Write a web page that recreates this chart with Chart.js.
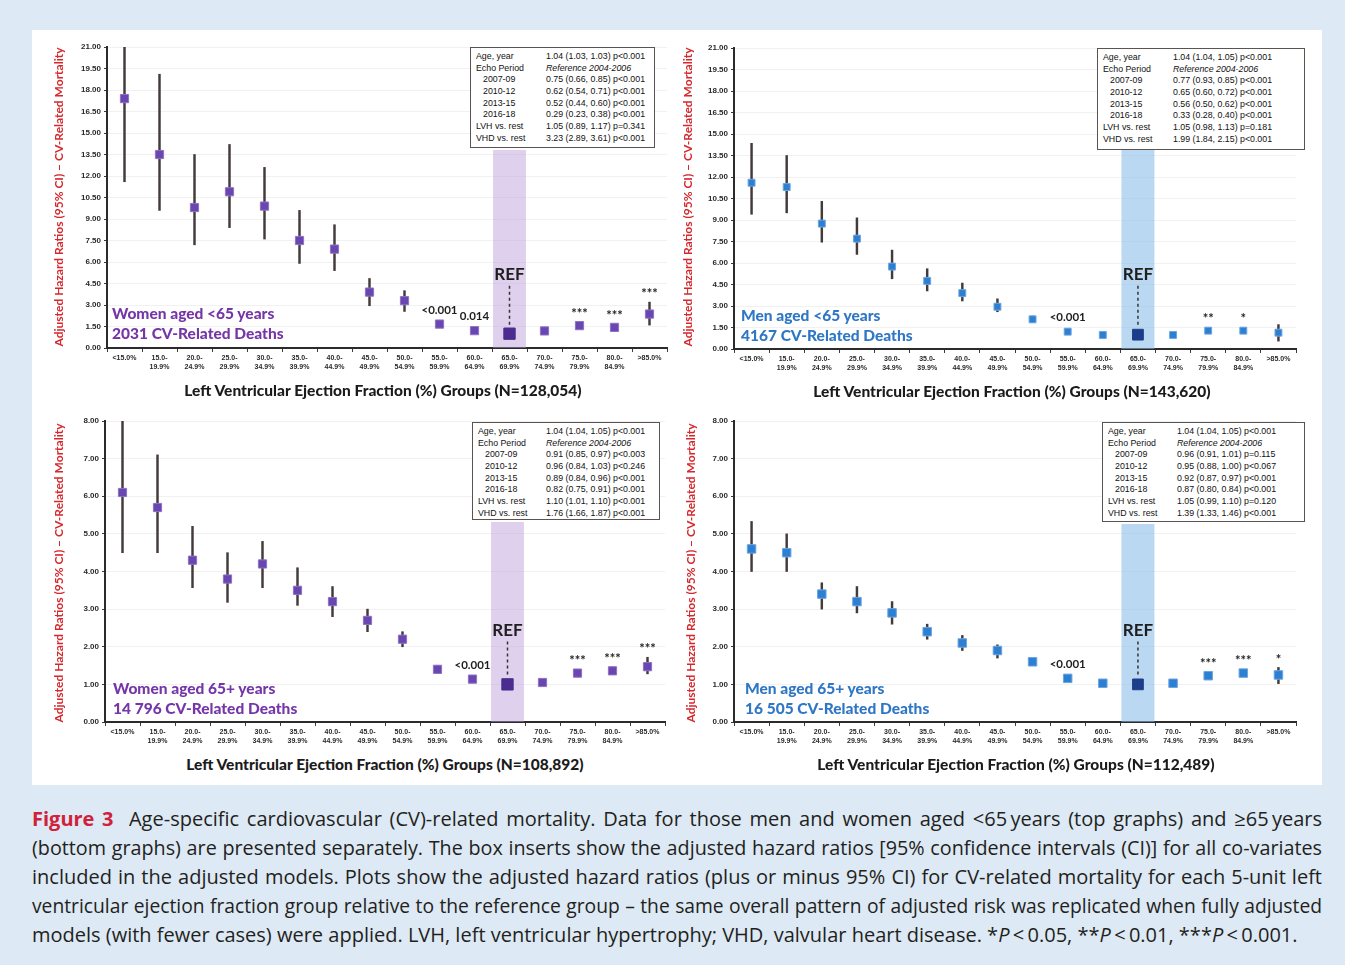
<!DOCTYPE html>
<html>
<head>
<meta charset="utf-8">
<script src="https://cdn.jsdelivr.net/npm/chart.js@4.4.1/dist/chart.umd.min.js"></script>
<style>
  html, body { margin: 0; padding: 0; }
  body { width: 1345px; height: 965px; background: #dde9f4; position: relative; overflow: hidden; font-family: Lato, "Liberation Sans", sans-serif; }
  #panel { position: absolute; left: 32px; top: 30px; width: 1290px; height: 755px; background: #fff; }
  canvas { position: absolute; }
  .ytitle { position: absolute; width: 320px; height: 14px; line-height: 14px; text-align: center; color: #d6282c; font: bold 12px Lato, sans-serif; white-space: nowrap; transform: rotate(-90deg); }
  .xtitle { position: absolute; width: 600px; text-align: center; color: #1b1b1b; font: 900 15.5px Lato, sans-serif; white-space: nowrap; }
  .plabel { position: absolute; font: 900 15.5px Lato, sans-serif; line-height: 20px; white-space: nowrap; }
  .inset { position: absolute; background: #fff; border: 1.5px solid #5a5350; box-sizing: border-box; padding-top: 3px; font: 8.8px "Liberation Sans", sans-serif; color: #111; }
  .inset .row { height: 11.7px; line-height: 11.7px; position: relative; white-space: nowrap; }
  .inset .lab { position: absolute; left: 5px; }
  .inset .lab.ind { left: 12px; }
  .inset .val { position: absolute; }
  .inset .val.it { font-style: italic; }
  #caption { position: absolute; left: 32px; top: 804px; width: 1290px; color: #231f20; font: 20px "Open Sans", sans-serif; }
  #caption .ln { height: 29px; line-height: 29px; white-space: normal; overflow: hidden; }
  #caption .j { text-align: justify; text-align-last: justify; }
  #caption .fig { color: #d0203a; font-weight: bold; font-size: 20px; }
</style>
</head>
<body>
<div id="panel"></div>

<canvas id="cTL" width="640" height="340" style="left:36px;top:36px"></canvas>
<canvas id="cTR" width="640" height="340" style="left:664px;top:36px"></canvas>
<canvas id="cBL" width="640" height="340" style="left:36px;top:410px"></canvas>
<canvas id="cBR" width="640" height="340" style="left:664px;top:410px"></canvas>

<div class="ytitle" style="left:-102px;top:190px">Adjusted Hazard Ratios (95% CI) – CV-Related Mortality</div>
<div class="ytitle" style="left:527px;top:190px">Adjusted Hazard Ratios (95% CI) – CV-Related Mortality</div>
<div class="ytitle" style="left:-102px;top:566px">Adjusted Hazard Ratios (95% CI) – CV-Related Mortality</div>
<div class="ytitle" style="left:530px;top:566px">Adjusted Hazard Ratios (95% CI) – CV-Related Mortality</div>

<div class="xtitle" style="left:83px;top:381px">Left Ventricular Ejection Fraction (%) Groups (N=128,054)</div>
<div class="xtitle" style="left:712px;top:382px">Left Ventricular Ejection Fraction (%) Groups (N=143,620)</div>
<div class="xtitle" style="left:85px;top:755px">Left Ventricular Ejection Fraction (%) Groups (N=108,892)</div>
<div class="xtitle" style="left:716px;top:755px">Left Ventricular Ejection Fraction (%) Groups (N=112,489)</div>

<div class="plabel" style="left:112px;top:303px;color:#7536a8">Women aged &lt;65 years<br>2031 CV-Related Deaths</div>
<div class="plabel" style="left:741px;top:305px;color:#2f77c4">Men aged &lt;65 years<br>4167 CV-Related Deaths</div>
<div class="plabel" style="left:113px;top:678px;color:#7536a8">Women aged 65+ years<br>14 796 CV-Related Deaths</div>
<div class="plabel" style="left:745px;top:678px;color:#2f77c4">Men aged 65+ years<br>16 505 CV-Related Deaths</div>

<div id="insTL" class="inset" style="left:470px;top:47px;width:185px;height:101px"></div>
<div id="insTR" class="inset" style="left:1097px;top:48px;width:208px;height:102px"></div>
<div id="insBL" class="inset" style="left:472px;top:422px;width:188px;height:98px"></div>
<div id="insBR" class="inset" style="left:1102px;top:422px;width:203px;height:100px"></div>

<div id="caption">
  <div class="ln j"><span class="fig">Figure&nbsp;3</span>&nbsp; Age-specific cardiovascular (CV)-related mortality. Data for those men and women aged &lt;65&#8201;years (top graphs) and &ge;65&#8201;years</div>
  <div class="ln j">(bottom graphs) are presented separately. The box inserts show the adjusted hazard ratios [95% confidence intervals (CI)] for all co-variates</div>
  <div class="ln j">included in the adjusted models. Plots show the adjusted hazard ratios (plus or minus 95% CI) for CV-related mortality for each 5-unit left</div>
  <div class="ln j">ventricular ejection fraction group relative to the reference group &ndash; the same overall pattern of adjusted risk was replicated when fully adjusted</div>
  <div class="ln">models (with fewer cases) were applied. LVH, left ventricular hypertrophy; VHD, valvular heart disease. *<i>P</i>&thinsp;&lt;&thinsp;0.05, **<i>P</i>&thinsp;&lt;&thinsp;0.01, ***<i>P</i>&thinsp;&lt;&thinsp;0.001.</div>
</div>

<script>
// LVEF groups (x categories)
const lvefGroups = [
  ['<15.0%'], ['15.0-', '19.9%'], ['20.0-', '24.9%'], ['25.0-', '29.9%'], ['30.0-', '34.9%'],
  ['35.0-', '39.9%'], ['40.0-', '44.9%'], ['45.0-', '49.9%'], ['50.0-', '54.9%'], ['55.0-', '59.9%'],
  ['60.0-', '64.9%'], ['65.0-', '69.9%'], ['70.0-', '74.9%'], ['75.0-', '79.9%'], ['80.0-', '84.9%'], ['>85.0%']
];
const refGroupIndex = 11;

// Women aged <65 years: adjusted HR with 95% CI
const womenU65HR = [17.4, 13.5, 9.8, 10.9, 9.9, 7.5, 6.9, 3.9, 3.3, 1.67, 1.21, 1.0, 1.19, 1.56, 1.44, 2.37];
const womenU65Lo = [11.6, 9.6, 7.2, 8.4, 7.6, 5.9, 5.4, 2.95, 2.55, 1.45, 1.05, null, 1.0, 1.35, 1.25, 1.6];
const womenU65Hi = [21.0, 19.1, 13.5, 14.2, 12.6, 9.6, 8.6, 4.85, 4.0, 1.9, 1.4, null, 1.4, 1.8, 1.65, 3.2];
const womenU65Sig = ['', '', '', '', '', '', '', '', '', '<0.001', '0.014', 'REF', '', '***', '***', '***'];

// Men aged <65 years
const menU65HR = [11.6, 11.3, 8.75, 7.7, 5.75, 4.75, 3.9, 2.95, 2.07, 1.21, 0.98, 1.0, 0.98, 1.28, 1.28, 1.14];
const menU65Lo = [9.4, 9.5, 7.45, 6.6, 4.9, 4.05, 3.35, 2.6, 1.85, 1.05, 0.85, null, 0.85, 1.1, 1.1, 0.55];
const menU65Hi = [14.35, 13.5, 10.3, 9.15, 6.9, 5.6, 4.6, 3.5, 2.3, 1.4, 1.1, null, 1.12, 1.45, 1.45, 1.7];
const menU65Sig = ['', '', '', '', '', '', '', '', '', '<0.001', '', 'REF', '', '**', '*', ''];

// Women aged 65+ years
const women65HR = [6.1, 5.7, 4.3, 3.8, 4.2, 3.5, 3.2, 2.7, 2.2, 1.4, 1.14, 1.0, 1.05, 1.3, 1.36, 1.47];
const women65Lo = [4.5, 4.5, 3.57, 3.18, 3.57, 3.1, 2.8, 2.4, 2.0, 1.3, 1.06, null, 0.97, 1.2, 1.26, 1.28];
const women65Hi = [8.0, 7.1, 5.2, 4.5, 4.8, 4.1, 3.6, 3.0, 2.4, 1.5, 1.22, null, 1.13, 1.4, 1.46, 1.72];
const women65Sig = ['', '', '', '', '', '', '', '', '', '', '<0.001', 'REF', '', '***', '***', '***'];

// Men aged 65+ years
const men65HR = [4.6, 4.5, 3.4, 3.2, 2.9, 2.4, 2.1, 1.9, 1.6, 1.16, 1.03, 1.0, 1.03, 1.23, 1.3, 1.25];
const men65Lo = [4.0, 4.0, 3.0, 2.9, 2.6, 2.2, 1.9, 1.7, 1.5, 1.08, 0.96, null, 0.96, 1.15, 1.22, 1.02];
const men65Hi = [5.33, 5.0, 3.7, 3.6, 3.2, 2.6, 2.3, 2.05, 1.7, 1.24, 1.1, null, 1.1, 1.31, 1.38, 1.45];
const men65Sig = ['', '', '', '', '', '', '', '', '', '<0.001', '', 'REF', '', '***', '***', '*'];

// Co-variate tables shown in the box inserts
const covariateLabels = ['Age, year', 'Echo Period', '2007-09', '2010-12', '2013-15', '2016-18', 'LVH vs. rest', 'VHD vs. rest'];
const covWomenU65 = ['1.04 (1.03, 1.03) p<0.001', 'Reference 2004-2006', '0.75 (0.66, 0.85) p<0.001', '0.62 (0.54, 0.71) p<0.001', '0.52 (0.44, 0.60) p<0.001', '0.29 (0.23, 0.38) p<0.001', '1.05 (0.89, 1.17) p=0.341', '3.23 (2.89, 3.61) p<0.001'];
const covMenU65 = ['1.04 (1.04, 1.05) p<0.001', 'Reference 2004-2006', '0.77 (0.93, 0.85) p<0.001', '0.65 (0.60, 0.72) p<0.001', '0.56 (0.50, 0.62) p<0.001', '0.33 (0.28, 0.40) p<0.001', '1.05 (0.98, 1.13) p=0.181', '1.99 (1.84, 2.15) p<0.001'];
const covWomen65 = ['1.04 (1.04, 1.05) p<0.001', 'Reference 2004-2006', '0.91 (0.85, 0.97) p<0.003', '0.96 (0.84, 1.03) p<0.246', '0.89 (0.84, 0.96) p<0.001', '0.82 (0.75, 0.91) p<0.001', '1.10 (1.01, 1.10) p<0.001', '1.76 (1.66, 1.87) p<0.001'];
const covMen65 = ['1.04 (1.04, 1.05) p<0.001', 'Reference 2004-2006', '0.96 (0.91, 1.01) p=0.115', '0.95 (0.88, 1.00) p<0.067', '0.92 (0.87, 0.97) p<0.001', '0.87 (0.80, 0.84) p<0.001', '1.05 (0.99, 1.10) p=0.120', '1.39 (1.33, 1.46) p<0.001'];

function fillInset(id, values, valLeft) {
  const box = document.getElementById(id);
  covariateLabels.forEach((lab, i) => {
    const row = document.createElement('div');
    row.className = 'row';
    const l = document.createElement('span');
    l.className = 'lab' + (i >= 2 && i <= 5 ? ' ind' : '');
    l.textContent = lab;
    const v = document.createElement('span');
    v.className = 'val' + (i === 1 ? ' it' : '');
    v.style.left = valLeft + 'px';
    v.textContent = values[i];
    row.appendChild(l); row.appendChild(v);
    box.appendChild(row);
  });
}
fillInset('insTL', covWomenU65, 75);
fillInset('insTR', covMenU65, 75);
fillInset('insBL', covWomen65, 73);
fillInset('insBR', covMen65, 74);

// keep each caption line on a single line
document.querySelectorAll('#caption .ln').forEach((ln) => {
  let size = 20;
  ln.style.whiteSpace = 'nowrap';
  while (ln.scrollWidth > 1290 && size > 14) {
    size -= 0.25;
    ln.style.fontSize = size + 'px';
  }
  ln.style.whiteSpace = 'normal';
});

// Reference band, significance labels and the REF pointer
const refMarks = {
  id: 'refMarks',
  beforeDatasetsDraw(chart, args, o) {
    const xs = chart.scales.x, ctx = chart.ctx;
    const cx = xs.getPixelForValue(o.refIndex);
    const w = (xs.getPixelForValue(1) - xs.getPixelForValue(0)) * 0.94;
    ctx.save();
    ctx.fillStyle = o.bandColor;
    ctx.fillRect(cx - w / 2, o.bandTop, w, chart.chartArea.bottom - o.bandTop);
    ctx.restore();
  },
  afterDatasetsDraw(chart, args, o) {
    const xs = chart.scales.x, ys = chart.scales.y, ctx = chart.ctx;
    ctx.save();
    ctx.textAlign = 'center';
    ctx.textBaseline = 'middle';
    ctx.fillStyle = '#1e1e1e';
    o.sig.forEach((s, i) => {
      if (!s) return;
      const cx = xs.getPixelForValue(i);
      const py = ys.getPixelForValue(o.hr[i]);
      if (s === 'REF') {
        const ty = py - o.refLift;
        ctx.font = 'bold 17px Lato, sans-serif';
        ctx.fillText('REF', cx, ty);
        ctx.setLineDash([3, 3]);
        ctx.lineWidth = 1.5;
        ctx.strokeStyle = '#333';
        ctx.beginPath();
        ctx.moveTo(cx, ty + 11);
        ctx.lineTo(cx, py - 7);
        ctx.stroke();
        ctx.setLineDash([]);
        return;
      }
      const hiPx = o.hi[i] != null ? ys.getPixelForValue(o.hi[i]) : py;
      const top = Math.min(py - 4, hiPx);
      const stars = s.charAt(0) === '*';
      ctx.font = stars ? 'bold 13px Lato, sans-serif' : 'bold 11.5px Lato, sans-serif';
      ctx.fillText(s, cx, top - (stars ? 8 : 10));
    });
    ctx.restore();
  }
};

function makeChart(id, cfg) {
  const ciData = cfg.lo.map((l, i) => (l == null ? null : [l, cfg.hi[i]]));
  new Chart(document.getElementById(id), {
    type: 'bar',
    data: {
      labels: lvefGroups,
      datasets: [
        {
          type: 'line',
          data: cfg.hr,
          showLine: false,
          order: 0,
          pointStyle: 'rect',
          pointRadius: (c) => (c.dataIndex === refGroupIndex ? cfg.refRadius : cfg.radius),
          pointBackgroundColor: (c) => (c.dataIndex === refGroupIndex ? cfg.refColor : cfg.color),
          pointBorderColor: (c) => (c.dataIndex === refGroupIndex ? cfg.refColor : cfg.edge),
          pointBorderWidth: 1
        },
        {
          type: 'bar',
          data: ciData,
          order: 1,
          grouped: false,
          barThickness: 1.8,
          backgroundColor: '#433a3a'
        }
      ]
    },
    options: {
      responsive: false,
      animation: false,
      devicePixelRatio: 1,
      layout: { padding: { left: 0, top: cfg.padTop, right: cfg.padRight, bottom: 0 } },
      plugins: {
        legend: { display: false },
        tooltip: { enabled: false },
        refMarks: {
          refIndex: refGroupIndex, sig: cfg.sig, hr: cfg.hr, hi: cfg.hi,
          bandColor: cfg.band, bandTop: cfg.bandTop, refLift: cfg.refLift
        }
      },
      scales: {
        x: {
          offset: true,
          grid: { offset: true, drawOnChartArea: false, tickLength: 4, color: '#3a3a3a', lineWidth: 1 },
          border: { color: '#2b2b2b', width: 2 },
          ticks: {
            font: { family: 'Liberation Sans', size: 7, weight: 'bold', lineHeight: 1.2 },
            color: '#2a2a2a', padding: 2, maxRotation: 0, autoSkip: false
          },
          afterFit: (s) => { s.height = cfg.xH; }
        },
        y: {
          min: 0, max: cfg.max,
          grid: { color: 'rgba(0,0,0,0.055)', tickLength: 3, tickColor: '#3a3a3a' },
          border: { color: '#2b2b2b', width: 2 },
          ticks: {
            stepSize: cfg.step,
            callback: (v) => Number(v).toFixed(2),
            font: { family: 'Liberation Sans', size: 8, weight: 'bold' },
            color: '#2a2a2a', padding: 3
          },
          afterFit: (s) => { s.width = cfg.yW; }
        }
      }
    },
    plugins: [refMarks]
  });
}

const purple = { color: '#6a46b0', edge: '#8d72c6', refColor: '#4a2d8e', band: 'rgba(183,150,214,0.45)' };
const blue = { color: '#2e7fd2', edge: '#6aa6e2', refColor: '#1d3d8a', band: 'rgba(130,184,232,0.55)' };

makeChart('cTL', Object.assign({}, purple, {
  hr: womenU65HR, lo: womenU65Lo, hi: womenU65Hi, sig: womenU65Sig,
  max: 21, step: 1.5, yW: 71, xH: 28, padTop: 11, padRight: 9,
  radius: 5.8, refRadius: 8, bandTop: 114, refLift: 59
}));
makeChart('cTR', Object.assign({}, blue, {
  hr: menU65HR, lo: menU65Lo, hi: menU65Hi, sig: menU65Sig,
  max: 21, step: 1.5, yW: 70, xH: 27, padTop: 12, padRight: 8,
  radius: 4.9, refRadius: 7.6, bandTop: 114, refLift: 60
}));
makeChart('cBL', Object.assign({}, purple, {
  hr: women65HR, lo: women65Lo, hi: women65Hi, sig: women65Sig,
  max: 8, step: 1, yW: 69, xH: 28, padTop: 11, padRight: 11,
  radius: 5.8, refRadius: 8, bandTop: 112, refLift: 54
}));
makeChart('cBR', Object.assign({}, blue, {
  hr: men65HR, lo: men65Lo, hi: men65Hi, sig: men65Sig,
  max: 8, step: 1, yW: 70, xH: 28, padTop: 11, padRight: 8,
  radius: 6, refRadius: 7.6, bandTop: 114, refLift: 54
}));
</script>
</body>
</html>
